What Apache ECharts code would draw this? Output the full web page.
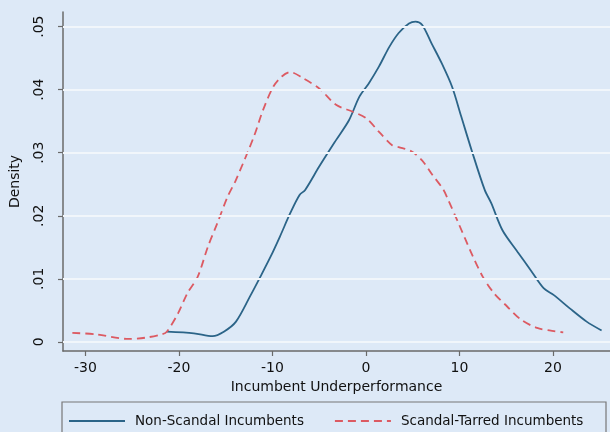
<!DOCTYPE html>
<html>
<head>
<meta charset="utf-8">
<script src="https://cdn.jsdelivr.net/npm/echarts@6/dist/echarts.min.js"></script>
<style>html,body{margin:0;padding:0;background:#dde9f7;}#c{width:610px;height:432px;}</style>
</head>
<body>
<div id="c"></div>
<script>
// Non-Scandal Incumbents (solid blue)
const blueX = [-21.3, -18.4, -16.4, -15.2, -13.9, -12.4, -11.3, -10.2, -9.2, -8.1, -7.1, -6.5, -5.0, -3.2, -1.8, -0.7, 0.3, 1.4, 2.5, 3.5, 4.6, 5.3, 6.0, 7.0, 8.1, 9.2, 10.2, 11.3, 12.7, 13.4, 14.6, 16.2, 17.6, 19.0, 20.1, 21.8, 23.6, 25.2];
const blueY = [0.0016, 0.00135, 0.0009, 0.0016, 0.0032, 0.0072, 0.0103, 0.0135, 0.0167, 0.0204, 0.0233, 0.0241, 0.0278, 0.0320, 0.0352, 0.0389, 0.0410, 0.0437, 0.0468, 0.0490, 0.0505, 0.0508, 0.0503, 0.0474, 0.0442, 0.0405, 0.0357, 0.0304, 0.0241, 0.0220, 0.0177, 0.0143, 0.0114, 0.0085, 0.0074, 0.0053, 0.0032, 0.0018];
// Scandal-Tarred Incumbents (dashed red)
const redX = [-31.4, -28.9, -25.4, -23.6, -21.8, -21.3, -20.1, -19.1, -18.0, -16.9, -15.9, -14.8, -13.9, -12.0, -11.0, -9.9, -9.0, -8.1, -6.7, -5.0, -3.2, -1.4, 0.0, 1.4, 2.8, 3.5, 4.9, 6.0, 7.0, 8.3, 8.8, 9.9, 11.3, 12.5, 13.7, 15.1, 16.6, 18.3, 20.1, 21.1];
const redY = [0.0014, 0.0012, 0.00045, 0.00065, 0.0012, 0.0016, 0.0045, 0.0077, 0.0103, 0.0151, 0.0188, 0.0230, 0.0257, 0.0325, 0.0368, 0.0405, 0.0421, 0.0428, 0.0418, 0.0402, 0.0376, 0.0365, 0.0355, 0.0333, 0.0312, 0.0309, 0.0302, 0.0288, 0.0267, 0.0241, 0.0225, 0.0188, 0.0140, 0.0103, 0.0077, 0.0056, 0.0035, 0.0022, 0.0017, 0.0015];
const xTicks = [-30, -20, -10, 0, 10, 20];
const yTicks = [0, 0.01, 0.02, 0.03, 0.04, 0.05];
const yTickLabels = ['0', '.01', '.02', '.03', '.04', '.05'];
const seriesNames = ['Non-Scandal Incumbents', 'Scandal-Tarred Incumbents'];

const FONT = 'DejaVu Sans';
const chart = echarts.init(document.getElementById('c'), null, {renderer: 'canvas'});
chart.setOption({
  backgroundColor: '#dde9f7',
  animation: false,
  textStyle: {fontFamily: FONT},
  grid: {left: 57, right: 0, top: 12, bottom: 81, containLabel: false},
  xAxis: {
    type: 'value', min: -32.4, max: 26.1,
    name: 'Incumbent Underperformance', nameLocation: 'middle', nameGap: 29,
    nameTextStyle: {fontSize: 14, color: '#111', fontFamily: FONT},
    axisLine: {show: true, onZero: false, lineStyle: {color: '#6a6a6a', width: 1.5}},
    axisTick: {show: true, length: 5, customValues: xTicks, lineStyle: {color: '#6a6a6a', width: 1.2}},
    axisLabel: {customValues: xTicks, fontSize: 14, color: '#111', margin: 10, fontFamily: FONT},
    splitLine: {show: false}
  },
  yAxis: {
    type: 'value', min: -0.00146, max: 0.05233,
    name: 'Density', nameLocation: 'middle', nameGap: 41,
    nameTextStyle: {fontSize: 14, color: '#111', fontFamily: FONT},
    axisLine: {show: true, onZero: false, lineStyle: {color: '#6a6a6a', width: 1.5}},
    axisTick: {show: true, length: 5, customValues: yTicks, lineStyle: {color: '#6a6a6a', width: 1.2}},
    axisLabel: {customValues: yTicks, fontSize: 14, color: '#111', rotate: 90, margin: 17, fontFamily: FONT,
      formatter: function (v) { const i = yTicks.findIndex(t => Math.abs(t - v) < 1e-9); return i >= 0 ? yTickLabels[i] : ''; }},
    splitLine: {show: false}
  },
  legend: {
    data: seriesNames, left: 62, top: 408, itemWidth: 56, itemHeight: 14, itemGap: 30,
    padding: [6, 6, 6, 6],
    itemStyle: {opacity: 0},
    textStyle: {fontSize: 13.5, color: '#111', fontFamily: FONT, padding: [0, 0, 0, 5]}
  },
  graphic: [{type: 'rect', shape: {x: 62, y: 402, width: 544, height: 40}, style: {fill: 'none', stroke: '#777', lineWidth: 1.2}, z: 10}],
  series: [
    {name: 'grid', type: 'line', data: [], z: 1, silent: true,
      markLine: {silent: true, symbol: 'none', label: {show: false},
        lineStyle: {color: '#f1f6fb', width: 2, type: 'solid'},
        data: yTicks.map(v => ({yAxis: v}))}},
    {name: seriesNames[0], type: 'line', z: 3, symbol: 'none', smooth: 0.3,
      data: blueX.map((x, i) => [x, blueY[i]]),
      lineStyle: {color: '#2b6488', width: 1.8}, itemStyle: {color: '#2b6488'}},
    {name: seriesNames[1], type: 'line', z: 3, symbol: 'none', smooth: 0.3,
      data: redX.map((x, i) => [x, redY[i]]),
      lineStyle: {color: '#dc5a62', width: 1.8, type: [8, 5]}, itemStyle: {color: '#dc5a62'}}
  ]
});
</script>
</body>
</html>
